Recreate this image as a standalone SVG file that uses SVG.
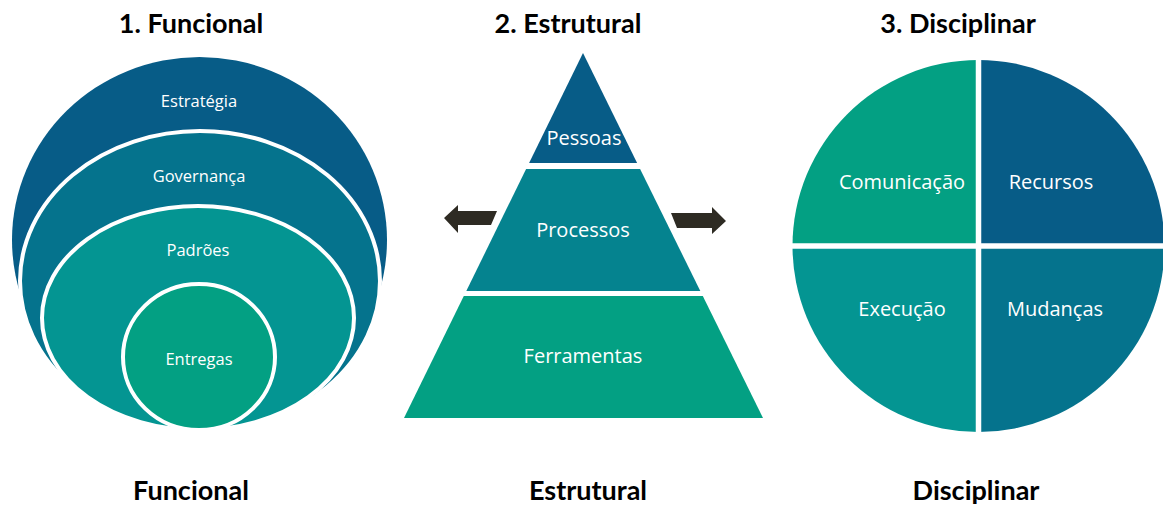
<svg xmlns="http://www.w3.org/2000/svg" width="1163" height="506" viewBox="0 0 1163 506">
  <style>
    .title { font-family: Lato, "Open Sans", "Liberation Sans", sans-serif; font-weight: 700; font-size: 27px; fill: #000; text-anchor: middle; }
    .lbl { font-family: "Open Sans", Lato, "Liberation Sans", sans-serif; fill: #fff; text-anchor: middle; }
    .sm { font-size: 16.5px; }
    .md { font-size: 20px; }
    .ring { stroke: #fff; stroke-width: 4; }
    .c-navy { fill: #075C87; }
    .c-blue { fill: #05738D; }
    .c-teal { fill: #049592; }
    .c-mid { fill: #05838F; }
    .c-green { fill: #03A083; }
    .arrow { fill: #2E2B23; }
  </style>

  <!-- headings -->
  <g id="headings">
    <text class="title" x="191" y="33">1. Funcional</text>
    <text class="title" x="568" y="33">2. Estrutural</text>
    <text class="title" x="958" y="33">3. Disciplinar</text>
    <text class="title" x="191" y="500">Funcional</text>
    <text class="title" x="588" y="500">Estrutural</text>
    <text class="title" x="976" y="500">Disciplinar</text>
  </g>

  <!-- 1. stacked ellipses, all resting on the same baseline -->
  <g id="funcional">
    <g id="estrategia">
      <ellipse class="c-navy" cx="199.5" cy="240" rx="187.5" ry="183"/>
      <text class="lbl sm" x="199" y="107">Estratégia</text>
    </g>
    <g id="governanca">
      <ellipse class="c-blue ring" cx="200" cy="281" rx="180" ry="150"/>
      <text class="lbl sm" x="199" y="182">Governança</text>
    </g>
    <g id="padroes">
      <ellipse class="c-teal ring" cx="198" cy="318" rx="156" ry="112"/>
      <text class="lbl sm" x="198" y="256">Padrões</text>
    </g>
    <g id="entregas">
      <ellipse class="c-green ring" cx="199" cy="357" rx="76" ry="73"/>
      <text class="lbl sm" x="199" y="365">Entregas</text>
    </g>
  </g>

  <!-- 2. pyramid -->
  <g id="estrutural">
    <g id="pessoas">
      <polygon class="c-navy" points="583,53 637.1,163 529.1,163"/>
      <text class="lbl md" x="584" y="145">Pessoas</text>
    </g>
    <g id="processos">
      <polygon class="c-mid" points="526.1,169 640.1,169 700.3,291 466.3,291"/>
      <text class="lbl md" x="583" y="237">Processos</text>
    </g>
    <g id="ferramentas">
      <polygon class="c-green" points="463.8,296 702.8,296 763,418 404,418"/>
      <text class="lbl md" x="583" y="363">Ferramentas</text>
    </g>
  </g>

  <!-- outward arrows beside the pyramid -->
  <g id="connectors">
    <polygon class="arrow" points="444,218 458,205 458,211 497,211 491,225 458,225 458,233"/>
    <polygon class="arrow" points="726,221 712,207 712,213 671,213 677,228 712,228 712,234"/>
  </g>

  <!-- 3. quartered circle -->
  <g id="disciplinar">
    <g id="comunicacao">
      <path class="c-green" d="M978.5,246 L792.5,246 A186,186 0 0 1 978.5,60 Z"/>
      <text class="lbl md" x="902" y="189">Comunicação</text>
    </g>
    <g id="recursos">
      <path class="c-navy" d="M978.5,246 L978.5,60 A186,186 0 0 1 1164.5,246 Z"/>
      <text class="lbl md" x="1051" y="189">Recursos</text>
    </g>
    <g id="execucao">
      <path class="c-teal" d="M978.5,246 L978.5,432 A186,186 0 0 1 792.5,246 Z"/>
      <text class="lbl md" x="902" y="316">Execução</text>
    </g>
    <g id="mudancas">
      <path class="c-blue" d="M978.5,246 L1164.5,246 A186,186 0 0 1 978.5,432 Z"/>
      <text class="lbl md" x="1055" y="316">Mudanças</text>
    </g>
    <g id="dividers" stroke="#fff" stroke-width="5.5">
      <line x1="978.5" y1="50" x2="978.5" y2="440"/>
      <line x1="785" y1="246" x2="1163" y2="246"/>
    </g>
  </g>
</svg>
